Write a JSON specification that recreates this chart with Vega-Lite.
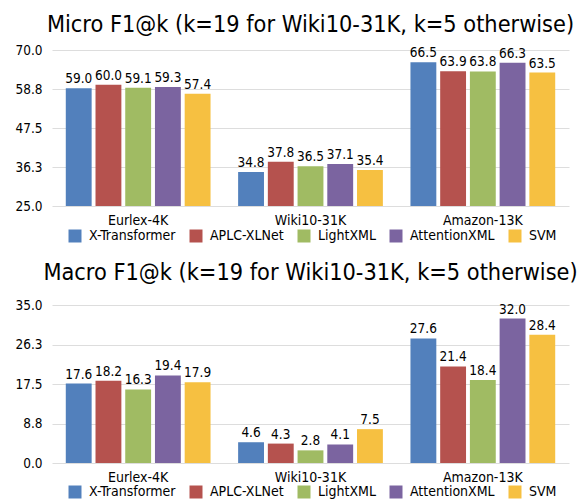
{
  "$schema": "https://vega.github.io/schema/vega-lite/v6.json",
  "padding": {"left": 14, "top": 12, "right": 5, "bottom": 0},
  "background": "white",
  "config": {
    "font": "DejaVu Sans Condensed",
    "view": {"stroke": null},
    "axis": {"labelColor": "#000", "labelFont": "DejaVu Sans Condensed"},
    "legend": {"labelColor": "#000", "labelFont": "DejaVu Sans Condensed"},
    "title": {"color": "#000", "font": "DejaVu Sans Condensed"}
  },
  "datasets": {
    "micro": [
      {"dataset": "Eurlex-4K", "model": "X-Transformer", "value": 59.0},
      {"dataset": "Eurlex-4K", "model": "APLC-XLNet", "value": 60.0},
      {"dataset": "Eurlex-4K", "model": "LightXML", "value": 59.1},
      {"dataset": "Eurlex-4K", "model": "AttentionXML", "value": 59.3},
      {"dataset": "Eurlex-4K", "model": "SVM", "value": 57.4},
      {"dataset": "Wiki10-31K", "model": "X-Transformer", "value": 34.8},
      {"dataset": "Wiki10-31K", "model": "APLC-XLNet", "value": 37.8},
      {"dataset": "Wiki10-31K", "model": "LightXML", "value": 36.5},
      {"dataset": "Wiki10-31K", "model": "AttentionXML", "value": 37.1},
      {"dataset": "Wiki10-31K", "model": "SVM", "value": 35.4},
      {"dataset": "Amazon-13K", "model": "X-Transformer", "value": 66.5},
      {"dataset": "Amazon-13K", "model": "APLC-XLNet", "value": 63.9},
      {"dataset": "Amazon-13K", "model": "LightXML", "value": 63.8},
      {"dataset": "Amazon-13K", "model": "AttentionXML", "value": 66.3},
      {"dataset": "Amazon-13K", "model": "SVM", "value": 63.5}
    ],
    "macro": [
      {"dataset": "Eurlex-4K", "model": "X-Transformer", "value": 17.6},
      {"dataset": "Eurlex-4K", "model": "APLC-XLNet", "value": 18.2},
      {"dataset": "Eurlex-4K", "model": "LightXML", "value": 16.3},
      {"dataset": "Eurlex-4K", "model": "AttentionXML", "value": 19.4},
      {"dataset": "Eurlex-4K", "model": "SVM", "value": 17.9},
      {"dataset": "Wiki10-31K", "model": "X-Transformer", "value": 4.6},
      {"dataset": "Wiki10-31K", "model": "APLC-XLNet", "value": 4.3},
      {"dataset": "Wiki10-31K", "model": "LightXML", "value": 2.8},
      {"dataset": "Wiki10-31K", "model": "AttentionXML", "value": 4.1},
      {"dataset": "Wiki10-31K", "model": "SVM", "value": 7.5},
      {"dataset": "Amazon-13K", "model": "X-Transformer", "value": 27.6},
      {"dataset": "Amazon-13K", "model": "APLC-XLNet", "value": 21.4},
      {"dataset": "Amazon-13K", "model": "LightXML", "value": 18.4},
      {"dataset": "Amazon-13K", "model": "AttentionXML", "value": 32.0},
      {"dataset": "Amazon-13K", "model": "SVM", "value": 28.4}
    ]
  },
  "spacing": 17,
  "resolve": {"scale": {"color": "independent", "y": "independent"}, "legend": {"color": "independent"}},
  "vconcat": [
    {
      "title": {"text": "Micro F1@k (k=19 for Wiki10-31K, k=5 otherwise)", "fontSize": 23.3, "fontWeight": "normal", "anchor": "middle", "offset": 6},
      "width": 517,
      "height": 156,
      "data": {"name": "micro"},
      "encoding": {
        "x": {"field": "dataset", "type": "nominal", "sort": ["Eurlex-4K", "Wiki10-31K", "Amazon-13K"], "scale": {"paddingInner": 0.16, "paddingOuter": 0.08}, "axis": {"title": null, "labelAngle": 0, "domain": false, "ticks": false, "labelFontSize": 14, "labelPadding": 7}},
        "xOffset": {"field": "model", "type": "nominal", "sort": ["X-Transformer", "APLC-XLNet", "LightXML", "AttentionXML", "SVM"], "scale": {"paddingInner": 0.13}},
        "y": {"field": "value", "type": "quantitative", "scale": {"domain": [25, 70], "nice": false, "zero": false}, "axis": {"title": null, "values": [25, 36.25, 47.5, 58.75, 70], "format": ".1f", "domain": false, "ticks": false, "labelFontSize": 13.5, "labelPadding": 10, "gridColor": "#dddddd"}}
      },
      "layer": [
        {
          "mark": {"type": "bar", "clip": true},
          "encoding": {
            "color": {"field": "model", "type": "nominal", "sort": ["X-Transformer", "APLC-XLNet", "LightXML", "AttentionXML", "SVM"],
              "scale": {"domain": ["X-Transformer", "APLC-XLNet", "LightXML", "AttentionXML", "SVM"], "range": ["#5280BC", "#B5524E", "#A0BB63", "#7B64A0", "#F6C041"]},
              "legend": {"orient": "none", "direction": "horizontal", "legendX": 16, "legendY": 179, "title": null, "symbolType": "square", "symbolSize": 169, "labelFontSize": 14, "labelOffset": 7, "columnPadding": 13, "symbolStrokeWidth": 0, "symbolOpacity": 1}}
          }
        },
        {
          "mark": {"type": "text", "baseline": "bottom", "dy": -2, "fontSize": 13.5, "color": "#000"},
          "encoding": {"text": {"field": "value", "type": "quantitative", "format": ".1f"}}
        }
      ]
    },
    {
      "title": {"text": "Macro F1@k (k=19 for Wiki10-31K, k=5 otherwise)", "fontSize": 23.3, "fontWeight": "normal", "anchor": "middle", "offset": 13},
      "width": 517,
      "height": 158,
      "data": {"name": "macro"},
      "encoding": {
        "x": {"field": "dataset", "type": "nominal", "sort": ["Eurlex-4K", "Wiki10-31K", "Amazon-13K"], "scale": {"paddingInner": 0.16, "paddingOuter": 0.08}, "axis": {"title": null, "labelAngle": 0, "domain": false, "ticks": false, "labelFontSize": 14, "labelPadding": 7}},
        "xOffset": {"field": "model", "type": "nominal", "sort": ["X-Transformer", "APLC-XLNet", "LightXML", "AttentionXML", "SVM"], "scale": {"paddingInner": 0.13}},
        "y": {"field": "value", "type": "quantitative", "scale": {"domain": [0, 35], "nice": false, "zero": false}, "axis": {"title": null, "values": [0, 8.75, 17.5, 26.25, 35], "format": ".1f", "domain": false, "ticks": false, "labelFontSize": 13.5, "labelPadding": 10, "gridColor": "#dddddd"}}
      },
      "layer": [
        {
          "mark": {"type": "bar", "clip": true},
          "encoding": {
            "color": {"field": "model", "type": "nominal", "sort": ["X-Transformer", "APLC-XLNet", "LightXML", "AttentionXML", "SVM"],
              "scale": {"domain": ["X-Transformer", "APLC-XLNet", "LightXML", "AttentionXML", "SVM"], "range": ["#5280BC", "#B5524E", "#A0BB63", "#7B64A0", "#F6C041"]},
              "legend": {"orient": "none", "direction": "horizontal", "legendX": 16, "legendY": 180, "title": null, "symbolType": "square", "symbolSize": 169, "labelFontSize": 14, "labelOffset": 7, "columnPadding": 13, "symbolStrokeWidth": 0, "symbolOpacity": 1}}
          }
        },
        {
          "mark": {"type": "text", "baseline": "bottom", "dy": -2, "fontSize": 13.5, "color": "#000"},
          "encoding": {"text": {"field": "value", "type": "quantitative", "format": ".1f"}}
        }
      ]
    }
  ]
}
